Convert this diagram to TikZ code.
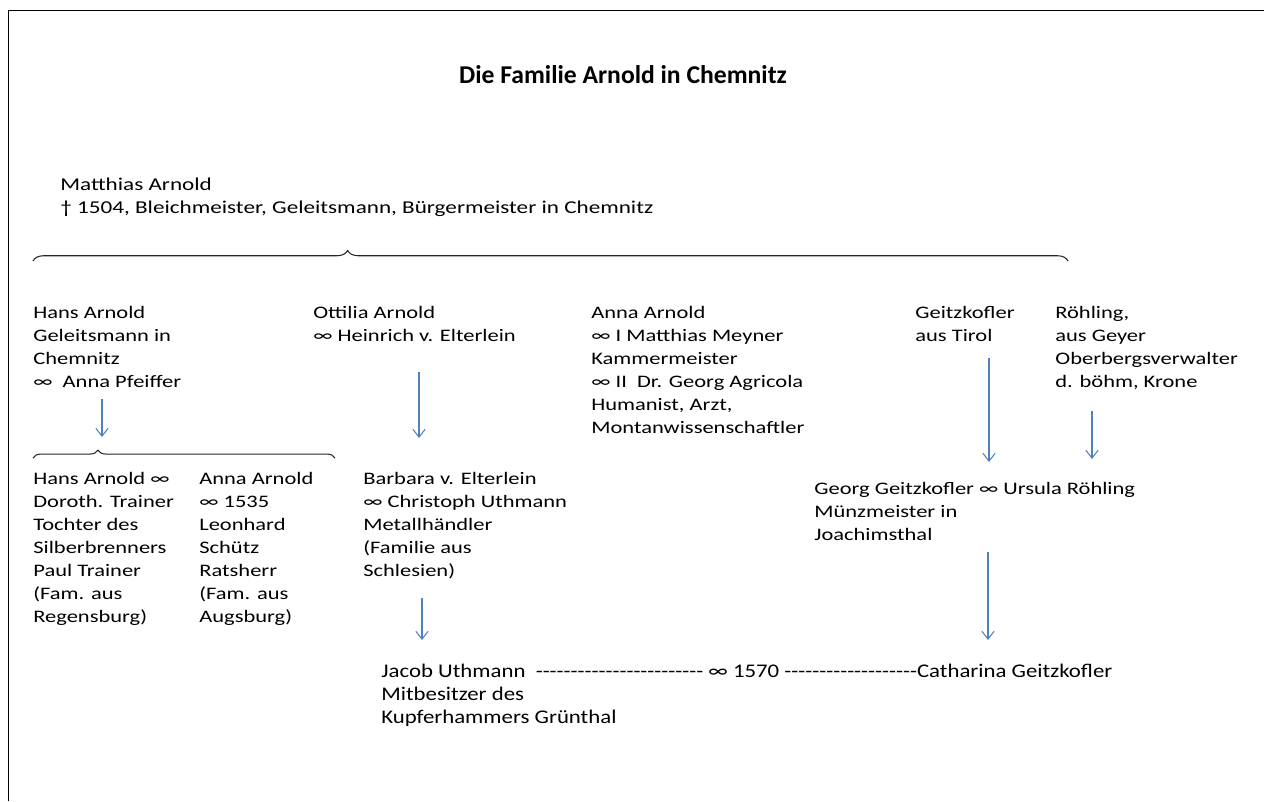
\documentclass[tikz,border=0pt]{standalone}
\usepackage{fontspec}
\setmainfont{Carlito}
\newfontfamily\widefont{Carlito}[FakeStretch=1.28]
\newfontfamily\halbfont{Carlito}[FakeStretch=1.18]
\usepackage{tikz}
\usetikzlibrary{
	arrows.meta,
	positioning,
	calc,
	decorations.pathreplacing
}
\usepackage{xcolor}
\definecolor{pfeilblau}{RGB}{79,129,189}
\newcommand\striche[1]{\foreach \i in {1,...,#1}{-}}

\begin{document}
\begin{tikzpicture}[x=0.02cm,y=-0.02cm,
		txt/.style={anchor=base west,inner sep=0pt,align=left,
			font=\widefont\fontsize{10}{13.05}\selectfont},
		unten/.style={anchor=base west,inner sep=0pt,align=left,
			font=\halbfont\fontsize{11}{13.05}\selectfont},
		pfeil/.style={draw=pfeilblau,line width=0.6pt,
			-{Straight Barb[length=4.5pt,width=7pt]}},
		klammer/.style={decorate,line width=0.6pt,draw=black!85}]
	
	\useasboundingbox (0,0) rectangle (1264,801);
	
	% frame
	\draw[line width=0.9pt] (8.5,801) -- (8.5,10.5) -- (1264,10.5);
	
	\node[font=\bfseries\fontsize{14.6}{17}\selectfont] (titel) at (623,75)
	{Die Familie Arnold in Chemnitz};
	
	% first generation (base = last line)
	\node[txt,font=\widefont\fontsize{10.3}{13.05}\selectfont] (matthias) at (60,213)
	{Matthias Arnold\\† 1504, Bleichmeister, Geleitsmann, Bürgermeister in Chemnitz};
	
	\draw[klammer,decoration={brace,amplitude=6pt,aspect=0.304}]
	(33,261) -- (1068,261);
	
	% children
	\node[txt] (hans) at (33,387)
	{Hans Arnold\\Geleitsmann in\\Chemnitz\\∞~ Anna Pfeiffer};
	\node[txt] (ottilia) at (313,341)
	{Ottilia Arnold\\∞ Heinrich v. Elterlein};
	\node[txt] (anna) at (591,433)
	{Anna Arnold\\∞ I Matthias Meyner\\Kammermeister\\∞ II~ Dr. Georg Agricola\\Humanist, Arzt,\\Montanwissenschaftler};
	\node[txt] (geitz) at (915,341)
	{Geitzkofler\\aus Tirol};
	\node[txt] (roehling) at (1055,387)
	{Röhling,\\aus Geyer\\Oberbergsverwalter\\d. böhm, Krone};
	
	% grandchildren
	\node[txt] (hans2) at (33,622)
	{Hans Arnold ∞\\Doroth. Trainer\\Tochter des\\Silberbrenners\\Paul Trainer\\(Fam. aus\\Regensburg)};
	\node[txt] (anna2) at (199,622)
	{Anna Arnold\\∞ 1535\\Leonhard\\Schütz\\Ratsherr\\(Fam. aus\\Augsburg)};
	\node[txt] (barbara) at (363,576)
	{Barbara v. Elterlein\\∞ Christoph Uthmann\\Metallhändler\\(Familie aus\\Schlesien)};
	\node[txt] (georg) at (814,540)
	{Georg Geitzkofler ∞ Ursula Röhling\\Münzmeister in\\Joachimsthal};
	
	\draw[klammer,decoration={brace,amplitude=4.5pt,aspect=0.215}]
	(33,458) -- (335,458);
	
	% marriage 1570
	\node[unten] (jacob) at (381,723)
	{Jacob Uthmann~ \striche{24} ∞ 1570 \striche{19}Catharina Geitzkofler\\Mitbesitzer des\\Kupferhammers Grünthal};
	
	% arrows
	\draw[pfeil] ([shift={(69,12)}]hans.base west) -- ([shift={(69,-185)}]hans2.base west);
	\draw[pfeil] ([shift={(106,31)}]ottilia.base west) -- ([shift={(56,-138)}]barbara.base west);
	\draw[pfeil] ([shift={(74,17)}]geitz.base west) -- ([shift={(175,-78)}]georg.base west);
	\draw[pfeil] ([shift={(37,24)}]roehling.base west) -- ([shift={(278,-81)}]georg.base west);
	\draw[pfeil] ([shift={(59,22)}]barbara.base west) -- ([shift={(41,-83)}]jacob.base west);
	\draw[pfeil] ([shift={(174,12)}]georg.base west) -- ([shift={(607,-83)}]jacob.base west);
	
\end{tikzpicture}
\end{document}
